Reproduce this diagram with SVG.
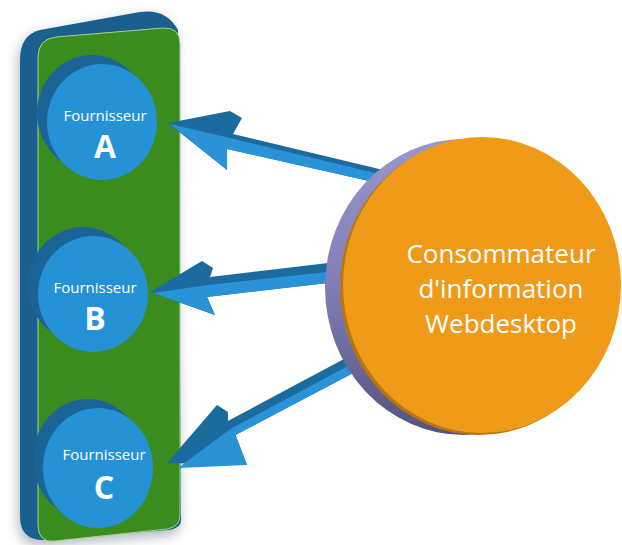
<svg xmlns="http://www.w3.org/2000/svg" width="622" height="545" viewBox="0 0 622 545">
<style>
.lbl{font-family:"Open Sans","Liberation Sans",sans-serif;fill:#fff;text-anchor:middle}
.small{font-size:15px}
.big{font-size:32px;font-weight:bold}
.cons{font-size:26px}
.face{fill:#2592d6}
.depth{fill:#1b6498}
.adark{fill:#1b6b9e}
.alight{fill:#2a93d8}
</style>
<defs>
<filter id="blur" x="-30%" y="-10%" width="160%" height="120%"><feGaussianBlur stdDeviation="6"/></filter>
<linearGradient id="purp" x1="0" y1="0" x2="0" y2="1">
<stop offset="0" stop-color="#9a97cf"/>
<stop offset="0.5" stop-color="#807db6"/>
<stop offset="1" stop-color="#55527c"/>
</linearGradient>
</defs>
<rect width="622" height="545" fill="#ffffff"/>
<g id="panel">
<path d="M 20 60 Q 20 35 40 30 L 140 12 Q 166 8 178 30 L 182 520 Q 182 530 168 532 L 45 542 Q 20 543 20 518 Z" fill="#7a8590" opacity="0.55" filter="url(#blur)" transform="translate(-2,4)"/>
<path d="M 20 60 Q 20 35 40 30 L 140 12 Q 166 8 178 30 L 181 520 Q 181 528 168 530 L 45 540 Q 20 541 20 516 Z" fill="#1a5f8e"/>
<path d="M 38 57 Q 38 39 56 37 L 163 28 Q 180 27 180 44 L 180 515 Q 180 527 167 529 L 55 541 Q 38 543 38 525 Z" fill="#3a8c1e" stroke="#a6d58a" stroke-width="1"/>
</g>
<g id="supplierA">
<ellipse class="depth" cx="92" cy="113" rx="55" ry="58"/>
<ellipse class="face" cx="102" cy="122" rx="55" ry="58"/>
<text class="lbl small" x="105" y="121">Fournisseur</text>
<text class="lbl big" x="105" y="158">A</text>
</g>
<g id="supplierB">
<ellipse class="depth" cx="83" cy="285" rx="55" ry="58"/>
<ellipse class="face" cx="93" cy="294" rx="55" ry="58"/>
<text class="lbl small" x="95" y="293">Fournisseur</text>
<text class="lbl big" x="95" y="330">B</text>
</g>
<g id="supplierC">
<ellipse class="depth" cx="88" cy="459" rx="55" ry="60"/>
<ellipse class="face" cx="98" cy="468" rx="55" ry="60"/>
<text class="lbl small" x="104" y="460">Fournisseur</text>
<text class="lbl big" x="104" y="499">C</text>
</g>
<g id="connectors">
<polygon class="adark" points="168,123 230,111 242,118 233,134 400,174 400,188 227,149 227,170"/>
<polygon class="alight" points="170,124 230,138 400,179 400,188 227,149 227,170"/>
<polygon class="adark" points="150,292 202,261 213,268 210,277 345,261 345,281 207,297 215,315"/>
<polygon class="alight" points="153,293 208,285 345,270 345,281 207,297 215,315"/>
<polygon class="adark" points="167,463 217,405 228,412 228,421 387,336 395,351 235.5,435 247,465"/>
<polygon class="alight" points="178,468 232,428 391,343 395,351 235.5,435 247,465"/>
</g>
<g id="consumer">
<ellipse cx="464" cy="287" rx="139" ry="148" fill="url(#purp)"/>
<ellipse cx="479" cy="287" rx="139" ry="148" fill="#bb7510"/>
<ellipse cx="482" cy="285" rx="139" ry="148" fill="#ef9a19"/>
<text class="lbl cons" x="501" y="263">Consommateur</text>
<text class="lbl cons" x="501" y="298">d'information</text>
<text class="lbl cons" x="501" y="333">Webdesktop</text>
</g>
</svg>
